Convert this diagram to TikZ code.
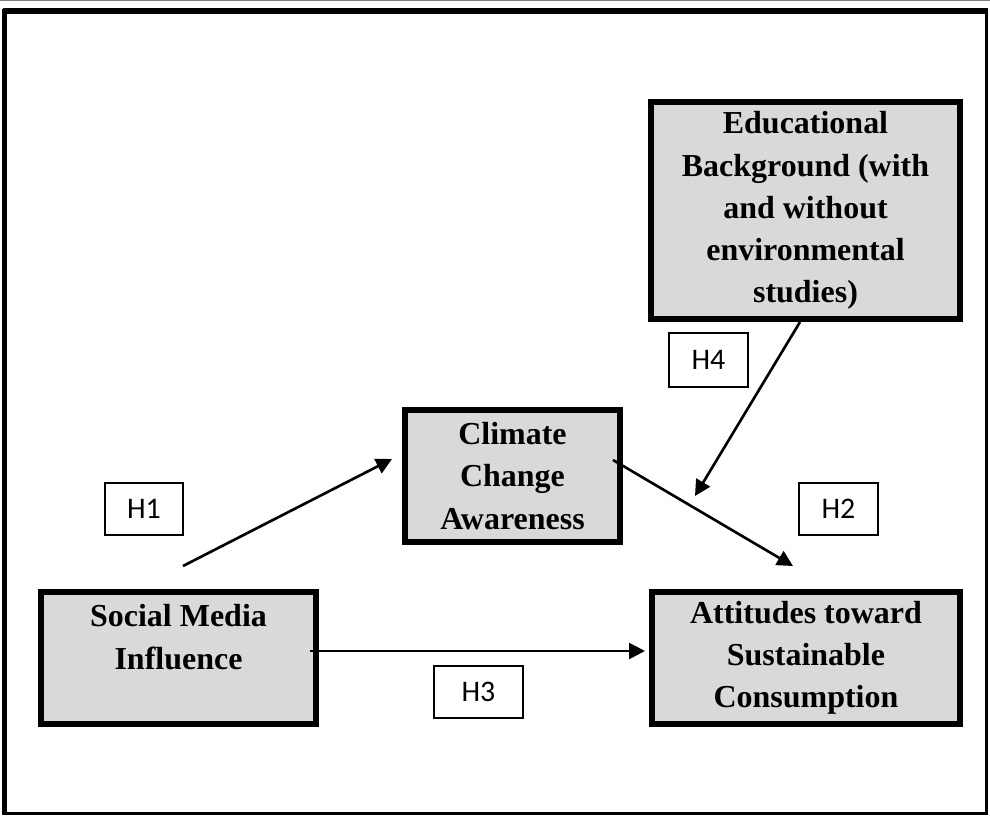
\documentclass[tikz,border=0pt]{standalone}
\usepackage{fontspec}
\setmainfont{Liberation Serif}
\newfontfamily\hfont{Carlito}
\usetikzlibrary{arrows.meta, positioning}
\definecolor{boxgray}{HTML}{D9D9D9}
\tikzset{
    block/.style = {
        draw, rectangle, fill=boxgray, line width=3.4pt, align=center,
        inner sep=0pt, font=\fontsize{18.2}{24}\selectfont\bfseries
    },
    hyp/.style = {
        draw, rectangle, line width=0.75pt, minimum width=1.56cm,
        minimum height=1.04cm, inner sep=0pt,
        font=\hfont\fontsize{17}{20}\selectfont
    },
}

\begin{document}
\begin{tikzpicture}[x=0.02cm, y=-0.02cm]
        \useasboundingbox (0,0) rectangle (990,815);

        % Frame
        \draw[gray, line width=0.8pt] (0,0.7) -- (990,0.7);
        \draw[line width=1.7pt] (4.5,11) rectangle (986,813.5);
        \draw[line width=3.4pt] (3,11) -- (988,11);
        \draw[line width=2.3pt] (4.5,9) -- (4.5,815);

        % Place the blocks
        \node[block, minimum width=6.18cm, minimum height=4.34cm] (edu) at (805.5,210.5)
            {Educational\\Background (with\\and without\\environmental\\studies)};
        \node[block, minimum width=4.3cm, minimum height=2.64cm] (cca) at (512.5,476)
            {Climate\\Change\\Awareness};
        \node[block, minimum width=5.5cm, minimum height=2.64cm] (smi) at (178.5,658)
            {Social Media\\Influence\\~};
        \node[block, minimum width=6.16cm, minimum height=2.64cm] (asc) at (806,658)
            {Attitudes toward\\Sustainable\\Consumption};

        % Hypothesis labels
        \node[hyp] (h1) at (144,509) {H1};
        \node[hyp, minimum width=1.58cm] (h2) at (838.5,509) {H2};
        \node[hyp, minimum width=1.78cm] (h3) at (478.5,692) {H3};
        \node[hyp, minimum width=1.58cm, minimum height=1.08cm] (h4) at (708.5,360) {H4};

        % Arrow ends
        \coordinate (smiTop) at (183,566);
        \coordinate (ccaIn) at (392,459);
        \coordinate (ccaOut) at (613,460);
        \coordinate (ascIn) at (793,566);
        \coordinate (smiOut) at (310,651);
        \coordinate (ascLeft) at (645,651);
        \coordinate (eduOut) at (800,322);
        \coordinate (modTip) at (695,496);

        % Draw connections
        \begin{scope}[line width=1.5pt, >={Triangle[width=9pt,length=9pt]}]
            \draw[->] (smiTop) -- (ccaIn);
            \draw[->] (ccaOut) -- (ascIn);
            \draw[->] (smiOut) -- (ascLeft);
            \draw[->] (eduOut) -- (modTip);
        \end{scope}
\end{tikzpicture}
\end{document}
